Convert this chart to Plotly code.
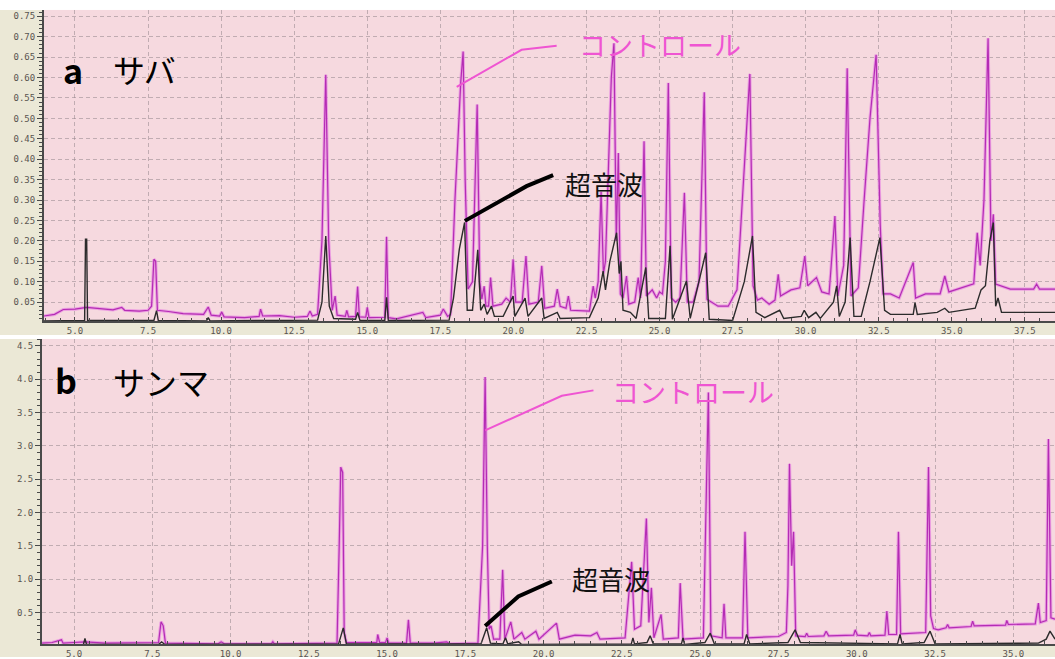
import plotly.graph_objects as go

# ---- Panel a: サバ (retention time in min, absorbance) ----
saba_ctrl_t = [3.94, 4.3, 4.6, 5.0, 5.4, 5.8, 6.3, 6.6, 6.7, 7.2, 7.5, 7.62, 7.7, 7.76, 7.82, 8.2, 8.7,
               9.4, 9.56, 9.66, 9.95, 10.02, 10.1, 10.8, 11.3, 11.35, 11.42, 12.0, 12.5, 12.95, 13.04,
               13.12, 13.3, 13.45, 13.58, 13.68, 13.8, 13.9, 13.97, 14.25, 14.3, 14.36, 14.6, 14.67,
               14.73, 14.95, 15.0, 15.06, 15.6, 15.66, 15.72, 16.0, 16.9, 17.0, 17.5, 17.6, 17.75,
               17.85, 18.0, 18.2, 18.28, 18.35, 18.45, 18.6, 18.76, 18.85, 18.92, 19.0, 19.06, 19.15,
               19.22, 19.3, 19.6, 19.75, 19.9, 19.99, 20.08, 20.3, 20.43, 20.53, 20.85, 20.97, 21.07,
               21.4, 21.5, 21.6, 21.8, 21.88, 21.96, 22.6, 22.73, 22.8, 22.9, 23.0, 23.08, 23.15,
               23.25, 23.35, 23.44, 23.52, 23.59, 23.66, 23.75, 23.87, 23.95, 24.15, 24.27, 24.35,
               24.47, 24.55, 24.75, 24.9, 25.0, 25.1, 25.2, 25.3, 25.4, 25.55, 25.7, 25.85, 25.95,
               26.15, 26.35, 26.53, 26.62, 27.0, 27.35, 27.5, 27.65, 27.75, 27.95, 28.09, 28.2,
               28.35, 28.5, 28.75, 28.95, 29.06, 29.14, 29.5, 29.8, 29.97, 30.07, 30.37, 30.55, 30.8,
               31.0, 31.1, 31.3, 31.42, 31.55, 31.8, 32.0, 32.2, 32.41, 32.55, 32.65, 32.9, 33.2,
               33.68, 33.76, 34.1, 34.6, 34.76, 34.9, 35.3, 35.75, 35.87, 35.97, 36.1, 36.24, 36.34,
               36.42, 36.5, 37.0, 37.8, 37.9, 38.0, 38.53]
saba_ctrl_abs = [0.016, 0.02, 0.032, 0.033, 0.037, 0.034, 0.031, 0.037, 0.03, 0.028, 0.03, 0.04, 0.155,
                 0.15, 0.03, 0.027, 0.022, 0.02, 0.038, 0.018, 0.016, 0.026, 0.014, 0.012, 0.015,
                 0.033, 0.016, 0.017, 0.013, 0.015, 0.028, 0.016, 0.02, 0.2, 0.607, 0.2, 0.03, 0.065,
                 0.018, 0.015, 0.03, 0.014, 0.015, 0.088, 0.014, 0.013, 0.037, 0.012, 0.013, 0.21,
                 0.012, 0.009, 0.025, 0.012, 0.018, 0.033, 0.015, 0.02, 0.30, 0.59, 0.664, 0.35,
                 0.082, 0.1, 0.534, 0.1, 0.057, 0.089, 0.04, 0.04, 0.11, 0.04, 0.045, 0.06, 0.05,
                 0.155, 0.05, 0.05, 0.163, 0.045, 0.05, 0.139, 0.035, 0.04, 0.082, 0.04, 0.035, 0.065,
                 0.03, 0.028, 0.089, 0.06, 0.1, 0.32, 0.12, 0.15, 0.4, 0.6, 0.684, 0.2, 0.415, 0.07,
                 0.06, 0.114, 0.045, 0.05, 0.11, 0.06, 0.444, 0.065, 0.08, 0.06, 0.075, 0.07, 0.15,
                 0.587, 0.06, 0.05, 0.06, 0.318, 0.05, 0.05, 0.1, 0.564, 0.057, 0.04, 0.04, 0.06, 0.08,
                 0.2, 0.45, 0.609, 0.09, 0.055, 0.06, 0.045, 0.055, 0.118, 0.065, 0.08, 0.085, 0.163,
                 0.09, 0.11, 0.075, 0.07, 0.261, 0.065, 0.14, 0.623, 0.065, 0.085, 0.3, 0.5, 0.656,
                 0.24, 0.07, 0.07, 0.06, 0.147, 0.06, 0.07, 0.07, 0.114, 0.075, 0.085, 0.095, 0.22,
                 0.14, 0.3, 0.696, 0.2, 0.265, 0.094, 0.082, 0.082, 0.094, 0.082, 0.082]

saba_us_t = [3.94, 5.33, 5.36, 5.40, 5.43, 7.7, 7.79, 7.85, 9.5, 9.56, 9.62, 13.3, 13.45, 13.58, 13.7,
             13.85, 14.6, 14.67, 14.75, 15.6, 15.66, 15.72, 17.8, 17.95, 18.15, 18.33, 18.42, 18.6,
             18.78, 18.88, 19.0, 19.1, 19.25, 19.35, 19.65, 19.99, 20.05, 20.4, 20.5, 20.97, 21.05,
             21.5, 21.6, 22.6, 22.9, 23.07, 23.15, 23.3, 23.53, 23.62, 23.68, 23.75, 24.0, 24.2,
             24.53, 24.63, 25.2, 25.36, 25.44, 25.92, 26.05, 26.58, 26.7, 27.5, 27.9, 28.18, 28.3,
             28.6, 29.11, 29.25, 29.85, 29.95, 30.1, 30.35, 30.5, 30.95, 31.06, 31.15, 31.35, 31.52,
             31.65, 31.9, 32.2, 32.54, 32.7, 32.9, 33.68, 33.74, 33.82, 34.5, 34.76, 34.9, 35.8,
             36.0, 36.15, 36.3, 36.42, 36.5, 36.58, 36.7, 38.53]
saba_us_abs = [0.004, 0.005, 0.204, 0.204, 0.005, 0.005, 0.029, 0.005, 0.004, 0.012, 0.004, 0.006,
               0.05, 0.212, 0.04, 0.01, 0.008, 0.025, 0.005, 0.005, 0.062, 0.005, 0.006, 0.06, 0.18,
               0.245, 0.03, 0.03, 0.178, 0.03, 0.045, 0.02, 0.04, 0.015, 0.015, 0.065, 0.015, 0.06,
               0.015, 0.06, 0.01, 0.025, 0.01, 0.012, 0.06, 0.126, 0.08, 0.15, 0.22, 0.12, 0.15,
               0.03, 0.025, 0.01, 0.135, 0.01, 0.01, 0.188, 0.008, 0.102, 0.01, 0.171, 0.008, 0.005,
               0.1, 0.212, 0.025, 0.012, 0.03, 0.01, 0.015, 0.03, 0.012, 0.025, 0.01, 0.05, 0.09,
               0.015, 0.05, 0.208, 0.015, 0.015, 0.1, 0.208, 0.03, 0.02, 0.02, 0.049, 0.02, 0.025,
               0.035, 0.025, 0.035, 0.08, 0.09, 0.2, 0.245, 0.04, 0.06, 0.025, 0.025]

# ---- Panel b: サンマ ----
sanma_ctrl_t = [3.98, 4.3, 4.6, 4.65, 5.0, 5.35, 6.0, 7.0, 7.7, 7.78, 7.85, 7.92, 9.6, 9.7, 9.8, 11.3,
                11.35, 11.4, 13.4, 13.47, 13.52, 13.58, 13.63, 13.7, 14.67, 14.7, 14.76, 14.95, 15.0,
                15.05, 15.62, 15.68, 15.74, 16.5, 16.9, 17.0, 17.9, 18.05, 18.13, 18.2, 18.26, 18.32,
                18.4, 18.6, 18.69, 18.76, 18.95, 19.05, 19.3, 19.4, 19.75, 19.85, 20.41, 20.5, 21.0,
                21.5, 21.7, 21.8, 22.6, 22.81, 22.9, 23.1, 23.28, 23.36, 23.44, 23.52, 23.75, 23.82,
                24.3, 24.36, 24.45, 25.1, 25.26, 25.34, 25.7, 25.76, 25.82, 26.35, 26.43, 26.52, 27.0,
                27.5, 27.75, 27.8, 27.85, 27.92, 27.98, 28.05, 28.35, 28.4, 28.45, 28.95, 29.02, 29.1,
                29.9, 29.95, 30.02, 30.35, 30.4, 30.45, 30.9, 30.96, 31.02, 31.27, 31.33, 31.4, 32.2,
                32.29, 32.36, 32.45, 32.6, 32.85, 32.9, 32.95, 33.65, 33.7, 33.75, 34.75, 34.79, 34.84,
                35.7, 35.8, 35.86, 36.05, 36.12, 36.2, 36.33]
sanma_ctrl_abs = [0.04, 0.05, 0.09, 0.04, 0.05, 0.06, 0.04, 0.05, 0.05, 0.36, 0.3, 0.04, 0.03, 0.06,
                  0.03, 0.03, 0.06, 0.03, 0.04, 1.5, 2.68, 2.6, 0.2, 0.05, 0.05, 0.17, 0.05, 0.05, 0.12,
                  0.04, 0.04, 0.39, 0.04, 0.04, 0.06, 0.03, 0.04, 1.5, 4.03, 1.5, 0.25, 0.3, 0.1, 0.1,
                  1.14, 0.1, 0.36, 0.1, 0.2, 0.1, 0.22, 0.1, 0.34, 0.1, 0.16, 0.15, 0.2, 0.1, 0.12,
                  1.26, 0.25, 0.3, 1.91, 0.35, 0.87, 0.12, 0.47, 0.1, 0.12, 0.94, 0.1, 0.12, 3.8, 0.15,
                  0.12, 0.63, 0.12, 0.12, 1.71, 0.12, 0.13, 0.14, 0.2, 0.9, 2.73, 1.2, 1.71, 0.15, 0.14,
                  0.19, 0.14, 0.15, 0.22, 0.15, 0.16, 0.24, 0.16, 0.15, 0.2, 0.15, 0.16, 0.52, 0.17,
                  0.17, 1.71, 0.18, 0.2, 2.68, 0.45, 0.26, 0.24, 0.27, 0.32, 0.27, 0.29, 0.37, 0.3,
                  0.31, 0.38, 0.32, 0.33, 0.64, 0.35, 0.38, 3.1, 0.42, 0.4]

sanma_us_t = [3.98, 5.3, 5.35, 5.4, 7.7, 7.8, 7.9, 13.45, 13.6, 13.7, 18.0, 18.18, 18.3, 18.7, 18.78,
              18.85, 19.2, 19.3, 22.8, 22.85, 22.9, 23.3, 23.4, 23.5, 24.4, 24.45, 24.5, 25.15, 25.32,
              25.45, 26.4, 26.48, 26.58, 27.8, 28.03, 28.2, 31.3, 31.38, 31.45, 32.15, 32.34, 32.5,
              35.8, 36.05, 36.17, 36.33]
sanma_us_abs = [0.016, 0.02, 0.11, 0.02, 0.02, 0.06, 0.02, 0.03, 0.27, 0.03, 0.03, 0.27, 0.04, 0.03,
                0.12, 0.03, 0.06, 0.02, 0.03, 0.12, 0.03, 0.05, 0.15, 0.03, 0.03, 0.12, 0.02, 0.05,
                0.19, 0.03, 0.03, 0.17, 0.03, 0.05, 0.24, 0.05, 0.03, 0.17, 0.03, 0.05, 0.22, 0.03,
                0.04, 0.1, 0.22, 0.1]

saba_yticks = [0.05, 0.10, 0.15, 0.20, 0.25, 0.30, 0.35, 0.40, 0.45, 0.50, 0.55, 0.60, 0.65, 0.70, 0.75]
sanma_yticks = [0.5, 1.0, 1.5, 2.0, 2.5, 3.0, 3.5, 4.0, 4.5]
time_ticks = [5.0, 7.5, 10.0, 12.5, 15.0, 17.5, 20.0, 22.5, 25.0, 27.5, 30.0, 32.5, 35.0, 37.5]

CTRL_HALO = "rgba(232,140,225,0.75)"
CTRL_CORE = "#b42cb4"
US_COLOR = "#2b2b2b"
LABEL_PINK = "#ef55d2"
PLOT_BG = "#f6d9df"
FRAME_BG = "#ebe8d6"
GRID = "rgba(150,135,140,0.55)"
TICKFONT = dict(family="DejaVu Sans Mono", size=9, color="#5a5450")

fig = go.Figure()


def add_panel(t_ctrl, a_ctrl, t_us, a_us, xa, ya):
    fig.add_trace(go.Scatter(x=t_ctrl, y=a_ctrl, mode="lines", xaxis=xa, yaxis=ya,
                             line=dict(color=CTRL_HALO, width=3.2), hoverinfo="skip", showlegend=False))
    fig.add_trace(go.Scatter(x=t_ctrl, y=a_ctrl, mode="lines", xaxis=xa, yaxis=ya,
                             line=dict(color=CTRL_CORE, width=1.2), name="コントロール", showlegend=False))
    fig.add_trace(go.Scatter(x=t_us, y=a_us, mode="lines", xaxis=xa, yaxis=ya,
                             line=dict(color=US_COLOR, width=1.4), name="超音波", showlegend=False))


add_panel(saba_ctrl_t, saba_ctrl_abs, saba_us_t, saba_us_abs, "x", "y")
add_panel(sanma_ctrl_t, sanma_ctrl_abs, sanma_us_t, sanma_us_abs, "x2", "y2")

H = 659.0
W = 1055.0


def py(p):
    return 1 - p / H


xcommon = dict(tickvals=time_ticks, tickformat=".1f", showgrid=True, gridcolor=GRID, griddash="4px,3px",
               gridwidth=1, zeroline=False, showline=True, linecolor="#4a4a4a", linewidth=2,
               ticks="inside", ticklen=4, tickcolor="#4a4a4a", tickfont=TICKFONT,
               minor=dict(dtick=0.5, ticks="inside", ticklen=3, tickcolor="#4a4a4a", showgrid=False))
ycommon = dict(showgrid=True, gridcolor=GRID, griddash="4px,3px", gridwidth=1, zeroline=False,
               showline=True, linecolor="#4a4a4a", linewidth=2, ticks="outside", ticklen=5,
               tickcolor="#4a4a4a", tickfont=TICKFONT)

fig.update_layout(
    width=1055, height=659, margin=dict(l=0, r=0, t=0, b=0),
    paper_bgcolor="white", plot_bgcolor=PLOT_BG,
    xaxis=dict(domain=[44 / W, 1], range=[3.94, 38.53], anchor="y", **xcommon),
    yaxis=dict(domain=[py(322), py(10)], range=[0.0037, 0.7656], anchor="x", tickvals=saba_yticks,
               tickformat=".2f", minor=dict(dtick=0.01, ticks="outside", ticklen=3, tickcolor="#4a4a4a",
                                             showgrid=False), **ycommon),
    xaxis2=dict(domain=[42 / W, 1], range=[3.978, 36.33], anchor="y2", **xcommon),
    yaxis2=dict(domain=[py(646), py(340)], range=[0.027, 4.601], anchor="x2", tickvals=sanma_yticks,
                tickformat=".1f", minor=dict(dtick=0.1, ticks="outside", ticklen=3, tickcolor="#4a4a4a",
                                              showgrid=False), **ycommon),
)

# instrument-style frame around the axis labels
frame = [
    (0, 44 / W, py(336), py(10)),
    (44 / W, 1, py(336), py(322)),
    (0, 42 / W, 0, py(340)),
    (42 / W, 1, 0, py(646)),
]
for x0, x1, y0, y1 in frame:
    fig.add_shape(type="rect", xref="paper", yref="paper", x0=x0, x1=x1, y0=y0, y1=y1,
                  fillcolor=FRAME_BG, line=dict(width=0), layer="below")

# leader lines to the labelled traces
leaders = [
    ("x", "y", [(18.06, 0.577), (20.28, 0.668), (21.48, 0.678)], LABEL_PINK, 2),
    ("x", "y", [(18.34, 0.249), (20.45, 0.334), (21.36, 0.361)], "black", 4),
    ("x2", "y2", [(18.13, 3.23), (20.58, 3.75), (21.59, 3.83)], LABEL_PINK, 2),
    ("x2", "y2", [(18.13, 0.296), (19.19, 0.74), (20.26, 0.964)], "black", 4),
]
for xr, yr, pts, col, w in leaders:
    path = "M " + " L ".join(f"{x},{y}" for x, y in pts)
    fig.add_shape(type="path", xref=xr, yref=yr, path=path, line=dict(color=col, width=w))

JP = "Noto Sans CJK JP"
notes = [
    dict(x=22.17, y=0.68, xref="x", yref="y", text="コントロール", size=27, color=LABEL_PINK),
    dict(x=21.70, y=0.341, xref="x", yref="y", text="超音波", size=26, color="#111111"),
    dict(x=22.12, y=3.81, xref="x2", yref="y2", text="コントロール", size=27, color=LABEL_PINK),
    dict(x=20.84, y=1.01, xref="x2", yref="y2", text="超音波", size=26, color="#111111"),
    dict(x=61 / W, y=py(70), xref="paper", yref="paper", text="<b>a</b>", size=34, color="black"),
    dict(x=111 / W, y=py(69), xref="paper", yref="paper", text="サバ", size=32, color="black"),
    dict(x=53 / W, y=py(381), xref="paper", yref="paper", text="<b>b</b>", size=34, color="black"),
    dict(x=111 / W, y=py(382), xref="paper", yref="paper", text="サンマ", size=32, color="black"),
]
for n in notes:
    fig.add_annotation(x=n["x"], y=n["y"], xref=n["xref"], yref=n["yref"], text=n["text"],
                       showarrow=False, xanchor="left", yanchor="middle",
                       font=dict(family=JP, size=n["size"], color=n["color"]))

fig.write_html("out.html")
